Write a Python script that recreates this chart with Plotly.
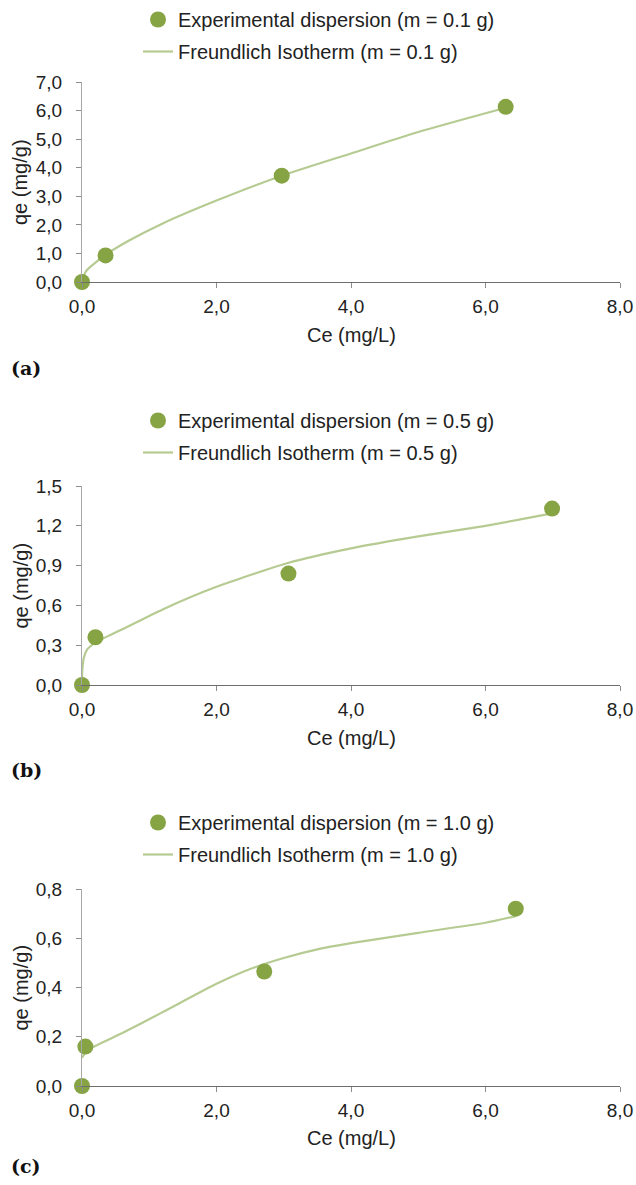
import plotly.graph_objects as go

W, H = 636, 1185

# ---- data ----
ce_exp_a = [0.0, 0.35, 2.97, 6.30]
qe_exp_a = [0.0, 0.93, 3.72, 6.13]
ce_fit_a = [0.0, 0.02, 0.06, 0.15, 0.35, 0.7, 1.2, 2.0, 2.97, 4.0, 5.0, 6.30]
qe_fit_a = [0.0, 0.18, 0.38, 0.58, 0.95, 1.45, 2.05, 2.85, 3.72, 4.50, 5.25, 6.10]

ce_exp_b = [0.0, 0.20, 3.07, 6.99]
qe_exp_b = [0.0, 0.36, 0.84, 1.33]
ce_fit_b = [0.0, 0.005, 0.03, 0.08, 0.2, 0.6, 1.2, 2.0, 3.06, 4.0, 5.0, 6.0, 6.95]
qe_fit_b = [0.0, 0.12, 0.21, 0.27, 0.32, 0.42, 0.57, 0.74, 0.92, 1.03, 1.12, 1.20, 1.29]

ce_exp_c = [0.0, 0.05, 2.71, 6.45]
qe_exp_c = [0.0, 0.16, 0.465, 0.72]
ce_fit_c = [0.0, 0.08, 0.6, 1.2, 2.0, 2.5, 3.0, 3.5, 4.0, 5.0, 6.0, 6.45]
qe_fit_c = [0.115, 0.145, 0.215, 0.30, 0.415, 0.475, 0.52, 0.555, 0.58, 0.622, 0.663, 0.69]

masses = ["0.1", "0.5", "1.0"]
y_ranges = [[0, 7], [0, 1.5], [0, 0.8]]
y_dticks = [1, 0.3, 0.2]
panel_tags = ["(a)", "(b)", "(c)"]

# ---- style ----
MARK = "#86a443"
LINE = "#b6cb92"
FONT = "Liberation Sans, Arial, sans-serif"
px_x0, px_x1 = 82, 620
panels_px = [(82, 282), (486, 685), (889, 1086)]   # (top of y range, bottom)
legend_top = [0, 401, 803]
tag_y = [368, 770, 1166]
xtitle_y = [335, 738, 1138]

def py(p):
    return 1 - p / H

def pxx(p):
    return p / W

fig = go.Figure()
exp = [(ce_exp_a, qe_exp_a), (ce_exp_b, qe_exp_b), (ce_exp_c, qe_exp_c)]
fit = [(ce_fit_a, qe_fit_a), (ce_fit_b, qe_fit_b), (ce_fit_c, qe_fit_c)]

annotations = []
for i in range(3):
    sfx = "" if i == 0 else str(i + 1)
    xa, ya = "x" + sfx, "y" + sfx
    lg = "legend" + sfx
    fig.add_trace(go.Scatter(
        x=fit[i][0], y=fit[i][1], mode="lines",
        line=dict(color=LINE, width=2.2, shape="spline", smoothing=0.6),
        name=f"Freundlich Isotherm (m = {masses[i]} g)",
        xaxis=xa, yaxis=ya, legend=lg, legendrank=2, cliponaxis=False,
        legendgroup=f"f{i}"))
    fig.add_trace(go.Scatter(
        x=exp[i][0], y=exp[i][1], mode="markers",
        marker=dict(color=MARK, size=16),
        name=f"Experimental dispersion (m = {masses[i]} g)",
        xaxis=xa, yaxis=ya, legend=lg, legendrank=1, cliponaxis=False,
        legendgroup=f"e{i}"))
    top, bot = panels_px[i]
    axcommon = dict(showgrid=False, zeroline=False, showline=True,
                    ticks="outside", ticklen=5, tickcolor="#8c8c8c",
                    tickfont=dict(family=FONT, size=19, color="#222"),
                    tickformat=".1f")
    fig.update_layout(**{
        "xaxis" + sfx: dict(domain=[pxx(px_x0), pxx(px_x1)], range=[0, 8], dtick=2,
                            linecolor="#6e6e6e", linewidth=1, anchor=ya,
                            ticklabelstandoff=2, **axcommon),
        "yaxis" + sfx: dict(domain=[py(bot), py(top)], range=y_ranges[i], dtick=y_dticks[i],
                            linecolor="#a8a8a8", linewidth=1.2, anchor=xa,
                            ticklabelstandoff=10, **axcommon),
        lg: dict(x=pxx(138), y=py(legend_top[i]), xanchor="left", yanchor="top",
                 font=dict(family=FONT, size=20, color="#222"),
                 bgcolor="rgba(0,0,0,0)", tracegroupgap=3, itemwidth=30,
                 traceorder="grouped"),
    })
    annotations.append(dict(text="qe (mg/g)", textangle=-90, x=pxx(20), y=py((top + bot) / 2),
                            xref="paper", yref="paper", showarrow=False,
                            xanchor="center", yanchor="middle",
                            font=dict(family=FONT, size=20, color="#222")))
    annotations.append(dict(text="Ce (mg/L)", x=pxx(351), y=py(xtitle_y[i]),
                            xref="paper", yref="paper", showarrow=False,
                            xanchor="center", yanchor="middle",
                            font=dict(family=FONT, size=20, color="#222")))
    annotations.append(dict(text="<b>" + panel_tags[i] + "</b>", x=pxx(9), y=py(tag_y[i]),
                            xref="paper", yref="paper", showarrow=False,
                            xanchor="left", yanchor="middle",
                            font=dict(family="DejaVu Serif, Liberation Serif, serif", size=19, color="#111")))

fig.update_layout(width=W, height=H,
                  margin=dict(l=0, r=0, t=0, b=0, autoexpand=False),
                  paper_bgcolor="white", plot_bgcolor="white",
                  separators=", ", annotations=annotations, showlegend=True)

fig.write_html("out.html", config={"displayModeBar": False},
               post_script="document.body.style.margin='0';document.body.style.overflow='hidden';")
